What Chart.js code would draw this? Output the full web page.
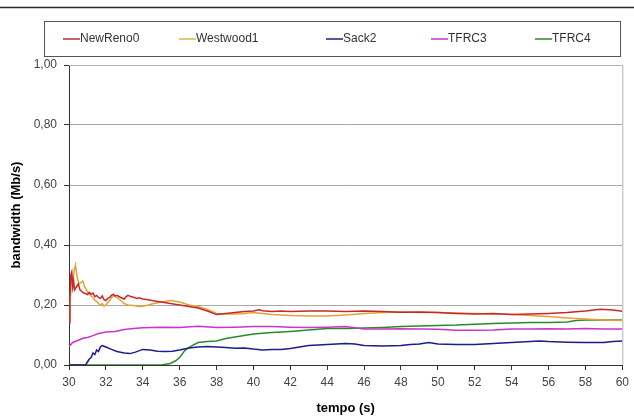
<!DOCTYPE html>
<html>
<head>
<meta charset="utf-8">
<script src="https://cdn.jsdelivr.net/npm/chart.js@4/dist/chart.umd.min.js"></script>
<style>
  html, body { margin: 0; padding: 0; background: #fff; }
  #wrap { width: 634px; height: 417px; position: relative; }
</style>
</head>
<body>
<div id="wrap"><canvas id="c" width="634" height="417"></canvas></div>
<script>
// Bandwidth per flow over time (Mb/s), sampled from the trace
const seriesNames = ['NewReno0', 'Westwood1', 'Sack2', 'TFRC3', 'TFRC4'];

const newRenoT = [30, 30.05, 30.1, 30.15, 30.2, 30.25, 30.3, 30.4, 30.5, 30.6, 30.7, 30.8, 30.9, 31.0, 31.1, 31.2, 31.3, 31.4, 31.5, 31.6, 31.7, 31.8, 31.9, 32.0, 32.1, 32.2, 32.3, 32.4, 32.5, 32.6, 32.8, 33.0, 33.1, 33.2, 33.35, 33.5, 33.7, 33.8, 34.0, 34.2, 34.5, 34.8, 35.0, 35.5, 36.0, 36.5, 37.0, 37.5, 38.0, 38.5, 39.0, 39.5, 40.0, 40.3, 40.5, 41.0, 41.5, 42.0, 43.0, 44.0, 45.0, 46.0, 47.0, 48.0, 49.0, 50.0, 51.0, 52.0, 53.0, 54.0, 55.0, 56.0, 57.0, 58.0, 58.8, 59.5, 60];
const newRenoV = [0.14, 0.22, 0.30, 0.31, 0.26, 0.28, 0.25, 0.26, 0.27, 0.25, 0.245, 0.24, 0.238, 0.235, 0.242, 0.236, 0.24, 0.228, 0.232, 0.225, 0.222, 0.23, 0.218, 0.215, 0.222, 0.225, 0.232, 0.236, 0.23, 0.232, 0.225, 0.22, 0.228, 0.232, 0.228, 0.226, 0.222, 0.224, 0.22, 0.218, 0.215, 0.212, 0.21, 0.205, 0.2, 0.195, 0.19, 0.18, 0.168, 0.172, 0.175, 0.178, 0.18, 0.184, 0.181, 0.178, 0.18, 0.178, 0.18, 0.18, 0.178, 0.18, 0.178, 0.176, 0.177, 0.175, 0.172, 0.17, 0.172, 0.168, 0.17, 0.172, 0.175, 0.18, 0.186, 0.183, 0.179];

const westwoodT = [30, 30.05, 30.1, 30.15, 30.2, 30.25, 30.3, 30.35, 30.45, 30.55, 30.65, 30.75, 30.85, 31.0, 31.1, 31.2, 31.3, 31.4, 31.5, 31.6, 31.7, 31.8, 31.9, 32.0, 32.2, 32.4, 32.6, 32.8, 33.0, 33.2, 33.5, 33.8, 34.0, 34.3, 34.6, 35.0, 35.5, 36.0, 36.5, 37.0, 37.5, 38.0, 38.5, 39.0, 39.5, 40.0, 40.5, 41.0, 42.0, 43.0, 44.0, 45.0, 46.0, 47.0, 48.0, 49.0, 50.0, 51.0, 52.0, 53.0, 54.0, 55.0, 56.0, 57.0, 58.0, 59.0, 60];
const westwoodV = [0.15, 0.21, 0.25, 0.3, 0.27, 0.3, 0.32, 0.333, 0.29, 0.27, 0.275, 0.28, 0.26, 0.245, 0.235, 0.23, 0.225, 0.215, 0.212, 0.205, 0.2, 0.205, 0.196, 0.2, 0.215, 0.232, 0.225, 0.215, 0.205, 0.2, 0.198, 0.195, 0.196, 0.2, 0.205, 0.21, 0.215, 0.21, 0.2, 0.195, 0.185, 0.172, 0.17, 0.17, 0.172, 0.175, 0.172, 0.168, 0.165, 0.163, 0.163, 0.167, 0.172, 0.175, 0.177, 0.175, 0.175, 0.173, 0.172, 0.17, 0.168, 0.165, 0.162, 0.157, 0.153, 0.15, 0.148];

const sackT = [30, 30.9, 31.0, 31.1, 31.2, 31.3, 31.4, 31.5, 31.6, 31.7, 31.8, 32.0, 32.3, 32.6, 33.0, 33.3, 33.6, 34.0, 34.4, 34.8, 35.2, 35.6, 36.0, 36.5, 37.0, 37.5, 38.0, 38.5, 39.0, 39.5, 40.0, 40.5, 41.0, 41.5, 42.0, 42.5, 43.0, 44.0, 45.0, 45.5, 46.0, 47.0, 48.0, 48.5, 49.0, 49.5, 50.0, 51.0, 52.0, 53.0, 54.0, 55.0, 55.5, 56.0, 57.0, 58.0, 59.0, 59.5, 60];
const sackV = [0, 0, 0.01, 0.02, 0.025, 0.04, 0.035, 0.05, 0.045, 0.06, 0.065, 0.06, 0.052, 0.045, 0.04, 0.038, 0.043, 0.052, 0.05, 0.046, 0.045, 0.046, 0.05, 0.057, 0.06, 0.062, 0.06, 0.058, 0.056, 0.057, 0.053, 0.05, 0.052, 0.052, 0.055, 0.06, 0.065, 0.068, 0.072, 0.07, 0.065, 0.063, 0.065, 0.068, 0.07, 0.075, 0.07, 0.068, 0.068, 0.072, 0.075, 0.078, 0.08, 0.078, 0.076, 0.075, 0.075, 0.078, 0.08];

const tfrc3T = [30, 30.2, 30.4, 30.6, 30.8, 31, 31.3, 31.6, 32, 32.5, 33, 33.5, 34, 35, 36, 37, 38, 39, 40, 41, 42, 43, 44, 45, 46, 47, 48, 49, 50, 51, 52, 53, 54, 55, 56, 57, 58, 59, 60];
const tfrc3V = [0.062, 0.075, 0.08, 0.085, 0.09, 0.092, 0.098, 0.105, 0.11, 0.112, 0.118, 0.122, 0.124, 0.126, 0.125, 0.129, 0.125, 0.126, 0.128, 0.128, 0.126, 0.125, 0.126, 0.128, 0.12, 0.12, 0.121, 0.12, 0.119, 0.116, 0.116, 0.117, 0.12, 0.12, 0.121, 0.12, 0.122, 0.12, 0.12];

const tfrc4T = [30, 35, 35.5, 35.8, 36, 36.3, 36.6, 37, 37.5, 38, 38.5, 39, 39.5, 40, 41, 42, 43, 44, 45, 46, 47, 48, 49, 50, 51, 52, 53, 54, 55, 56, 57, 57.5, 58, 59, 60];
const tfrc4V = [0, 0, 0.005, 0.015, 0.025, 0.05, 0.062, 0.075, 0.078, 0.08, 0.088, 0.093, 0.098, 0.103, 0.108, 0.112, 0.117, 0.122, 0.122, 0.123, 0.125, 0.128, 0.13, 0.132, 0.133, 0.136, 0.138, 0.14, 0.142, 0.142, 0.143, 0.148, 0.15, 0.15, 0.15];

const yTicks = [0, 0.2, 0.4, 0.6, 0.8, 1.0];
const xTicks = [30, 32, 34, 36, 38, 40, 42, 44, 46, 48, 50, 52, 54, 56, 58, 60];

const lineColors = ['#c8282a', '#e2a336', '#1c1c8a', '#cc33cc', '#2a8a2a'];
const legendColors = ['#a83236', '#d8b454', '#1c1c8a', '#cc33cc', '#2a8a2a'];

function pairs(ts, vs) { return ts.map((t, i) => ({ x: t, y: vs[i] })); }

const seriesData = [
  pairs(newRenoT, newRenoV),
  pairs(westwoodT, westwoodV),
  pairs(sackT, sackV),
  pairs(tfrc3T, tfrc3V),
  pairs(tfrc4T, tfrc4V)
];

// Frame lines: dark rule across the top, light plot-area border, boxed legend
const framePlugin = {
  id: 'frame',
  beforeDraw(chart) {
    const ctx = chart.ctx;
    ctx.save();
    ctx.fillStyle = '#fff';
    ctx.fillRect(0, 0, chart.width, chart.height);
    ctx.strokeStyle = '#2a2a2a';
    ctx.lineWidth = 1.5;
    ctx.beginPath();
    ctx.moveTo(0, 7.5);
    ctx.lineTo(chart.width, 7.5);
    ctx.stroke();
    ctx.restore();
  },
  afterDatasetsDraw(chart) {
    const ctx = chart.ctx;
    const a = chart.chartArea;
    ctx.save();
    ctx.strokeStyle = '#b4b4b4';
    ctx.lineWidth = 1;
    ctx.beginPath();
    ctx.moveTo(a.left, a.top + 0.5);
    ctx.lineTo(a.right + 0.5, a.top + 0.5);
    ctx.lineTo(a.right + 0.5, a.bottom);
    ctx.stroke();
    ctx.restore();
  },
  afterDraw(chart) {
    const ctx = chart.ctx;
    const box = { l: 44.5, t: 21.5, r: 620.5, b: 56.5 };
    ctx.save();
    ctx.strokeStyle = '#555';
    ctx.lineWidth = 1;
    ctx.strokeRect(box.l, box.t, box.r - box.l, box.b - box.t);
    const starts = [63, 179, 326, 431, 535];
    const cy = (box.t + box.b) / 2;
    ctx.font = '12px "Liberation Sans", Arial, sans-serif';
    ctx.textBaseline = 'middle';
    ctx.textAlign = 'left';
    chart.data.datasets.forEach((ds, i) => {
      ctx.strokeStyle = legendColors[i];
      ctx.lineWidth = 1.5;
      ctx.beginPath();
      ctx.moveTo(starts[i], cy);
      ctx.lineTo(starts[i] + 17, cy);
      ctx.stroke();
      ctx.fillStyle = '#333';
      ctx.fillText(ds.label, starts[i] + 17, cy);
    });
    ctx.restore();
  }
};

const fmt = v => v.toFixed(2).replace('.', ',');

new Chart(document.getElementById('c'), {
  type: 'line',
  data: {
    datasets: seriesNames.map((name, i) => ({
      label: name,
      data: seriesData[i],
      borderColor: lineColors[i],
      borderWidth: 1.5,
      pointRadius: 0,
      tension: 0,
      fill: false
    }))
  },
  options: {
    responsive: false,
    animation: false,
    devicePixelRatio: 1,
    layout: { padding: { top: 65, right: 8, left: 0, bottom: 0 } },
    plugins: { legend: { display: false }, tooltip: { enabled: false } },
    scales: {
      x: {
        type: 'linear',
        min: 30, max: 60,
        afterFit(scale) { scale.height = 52; },
        afterBuildTicks(scale) { scale.ticks = xTicks.map(v => ({ value: v })); },
        ticks: {
          color: '#444',
          padding: 5,
          maxRotation: 0,
          font: { family: '"Liberation Sans", Arial, sans-serif', size: 12 },
          callback: v => String(v)
        },
        grid: { drawOnChartArea: false, drawTicks: true, tickLength: 5, tickColor: '#333' },
        border: { color: '#333', width: 1 },
        title: {
          display: true,
          text: 'tempo (s)',
          color: '#000',
          padding: { top: 0, bottom: 1 },
          font: { family: '"Liberation Sans", Arial, sans-serif', size: 13, weight: 'bold' }
        }
      },
      y: {
        type: 'linear',
        min: 0, max: 1,
        afterFit(scale) { scale.width = 69; },
        afterBuildTicks(scale) { scale.ticks = yTicks.map(v => ({ value: v })); },
        ticks: {
          color: '#444',
          padding: 7,
          font: { family: '"Liberation Sans", Arial, sans-serif', size: 12 },
          callback: v => fmt(v)
        },
        grid: { color: '#a8a8a8', lineWidth: 1, drawTicks: true, tickLength: 5, tickColor: '#333' },
        border: { color: '#333', width: 1 },
        title: {
          display: true,
          text: 'bandwidth (Mb/s)',
          color: '#000',
          padding: { top: 9, bottom: 0 },
          font: { family: '"Liberation Sans", Arial, sans-serif', size: 13, weight: 'bold' }
        }
      }
    }
  },
  plugins: [framePlugin]
});
</script>
</body>
</html>
